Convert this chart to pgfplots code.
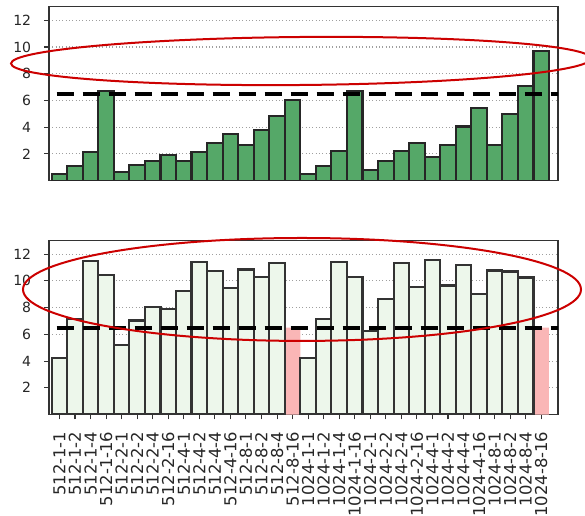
\documentclass[border=0pt]{standalone}
\usepackage{pgfplots}
\pgfplotsset{compat=1.18}
\usepackage{fontspec}
\setmainfont{DejaVu Sans}
\setsansfont{DejaVu Sans}
\definecolor{topgreen}{RGB}{85,168,104}
\definecolor{lightgreen}{RGB}{237,247,235}
\definecolor{redbar}{RGB}{250,182,182}
\definecolor{ellcol}{RGB}{204,0,0}
\pgfplotstableread{
x y
0 0.52
1 1.08
2 2.17
3 6.74
4 0.67
5 1.20
6 1.45
7 1.90
8 1.45
9 2.17
10 2.85
11 3.50
12 2.70
13 3.80
14 4.82
15 6.04
16 0.50
17 1.10
18 2.20
19 6.74
20 0.82
21 1.45
22 2.20
23 2.85
24 1.80
25 2.67
26 4.05
27 5.45
28 2.67
29 4.97
30 7.10
31 9.72
}\toptable
\pgfplotstableread{
x y
0 4.23
1 7.14
2 11.50
3 10.47
4 5.21
5 7.04
6 8.05
7 7.90
8 9.25
9 11.43
10 10.75
11 9.45
12 10.85
13 10.28
14 11.33
16 4.26
17 7.17
18 11.43
19 10.30
20 6.25
21 8.67
22 11.33
23 9.57
24 11.58
25 9.65
26 11.20
27 9.02
28 10.78
29 10.70
30 10.25
}\bottable
\pgfplotsset{
  mybase/.style={
    scale only axis, width=381.75pt, height=130.3pt,
    anchor=south west,
    xmin=-0.674, xmax=32.08, ymin=0, ymax=13,
    ytick={2,4,6,8,10,12},
    ymajorgrids,
    grid style={gray!75, line width=0.8pt, dash pattern=on 0.8pt off 1.7pt},
    axis line style={draw=black!80, line width=0.8pt},
    tick style={draw=black!80, line width=0.8pt},
    tick align=outside, major tick length=3.7pt,
    ytick pos=left, xtick pos=bottom,
    yticklabel style={font=\fontsize{10.5}{12}\selectfont, text=black!85, inner sep=0pt, anchor=east, xshift=-9.5pt},
    /pgf/number format/assume math mode=true,
    ybar, bar width=1, bar shift=0pt,
  }
}
\begin{document}
\begin{tikzpicture}[x=1pt,y=1pt]
\useasboundingbox (0,0) rectangle (438.75,387);
\begin{axis}[mybase, at={(36.75pt,251.5pt)}, xtick=\empty]
\addplot[fill=topgreen, draw=black!85, line width=1.6pt, bar shift=0pt] table[x=x,y=y] {\toptable};
\addplot[sharp plot, black, line width=3pt, dash pattern=on 12.75pt off 6.75pt] coordinates {(-0.18,6.5) (32.6,6.5)};
\end{axis}
\begin{axis}[mybase, at={(36.75pt,76.1pt)},
  xtick={0,1,...,31},
  xticklabels={512-1-1,512-1-2,512-1-4,512-1-16,512-2-1,512-2-2,512-2-4,512-2-16,512-4-1,512-4-2,512-4-4,512-4-16,512-8-1,512-8-2,512-8-4,512-8-16,1024-1-1,1024-1-2,1024-1-4,1024-1-16,1024-2-1,1024-2-2,1024-2-4,1024-2-16,1024-4-1,1024-4-2,1024-4-4,1024-4-16,1024-8-1,1024-8-2,1024-8-4,1024-8-16},
  xticklabel style={yshift=-9pt, rotate=90, anchor=east, inner sep=0pt, font=\fontsize{12.3}{14}\selectfont, text=black!85}]
\addplot[fill=redbar, draw=none, bar shift=0pt] coordinates {(15,6.5) (31,6.5)};
\addplot[fill=lightgreen, draw=black!80, line width=1.6pt, bar shift=0pt] table[x=x,y=y] {\bottable};
\addplot[sharp plot, black, line width=3pt, dash pattern=on 12.75pt off 6.75pt] coordinates {(-0.18,6.5) (32.6,6.5)};
\end{axis}
\draw[ellcol, line width=1.5pt, rotate around={0.5:(225.75,341.25)}] (225.75,341.25) ellipse [x radius=217.5, y radius=18];
\draw[ellcol, line width=1.5pt] (226.5,169.9) ellipse [x radius=209.25, y radius=38.6];
\end{tikzpicture}
\end{document}
